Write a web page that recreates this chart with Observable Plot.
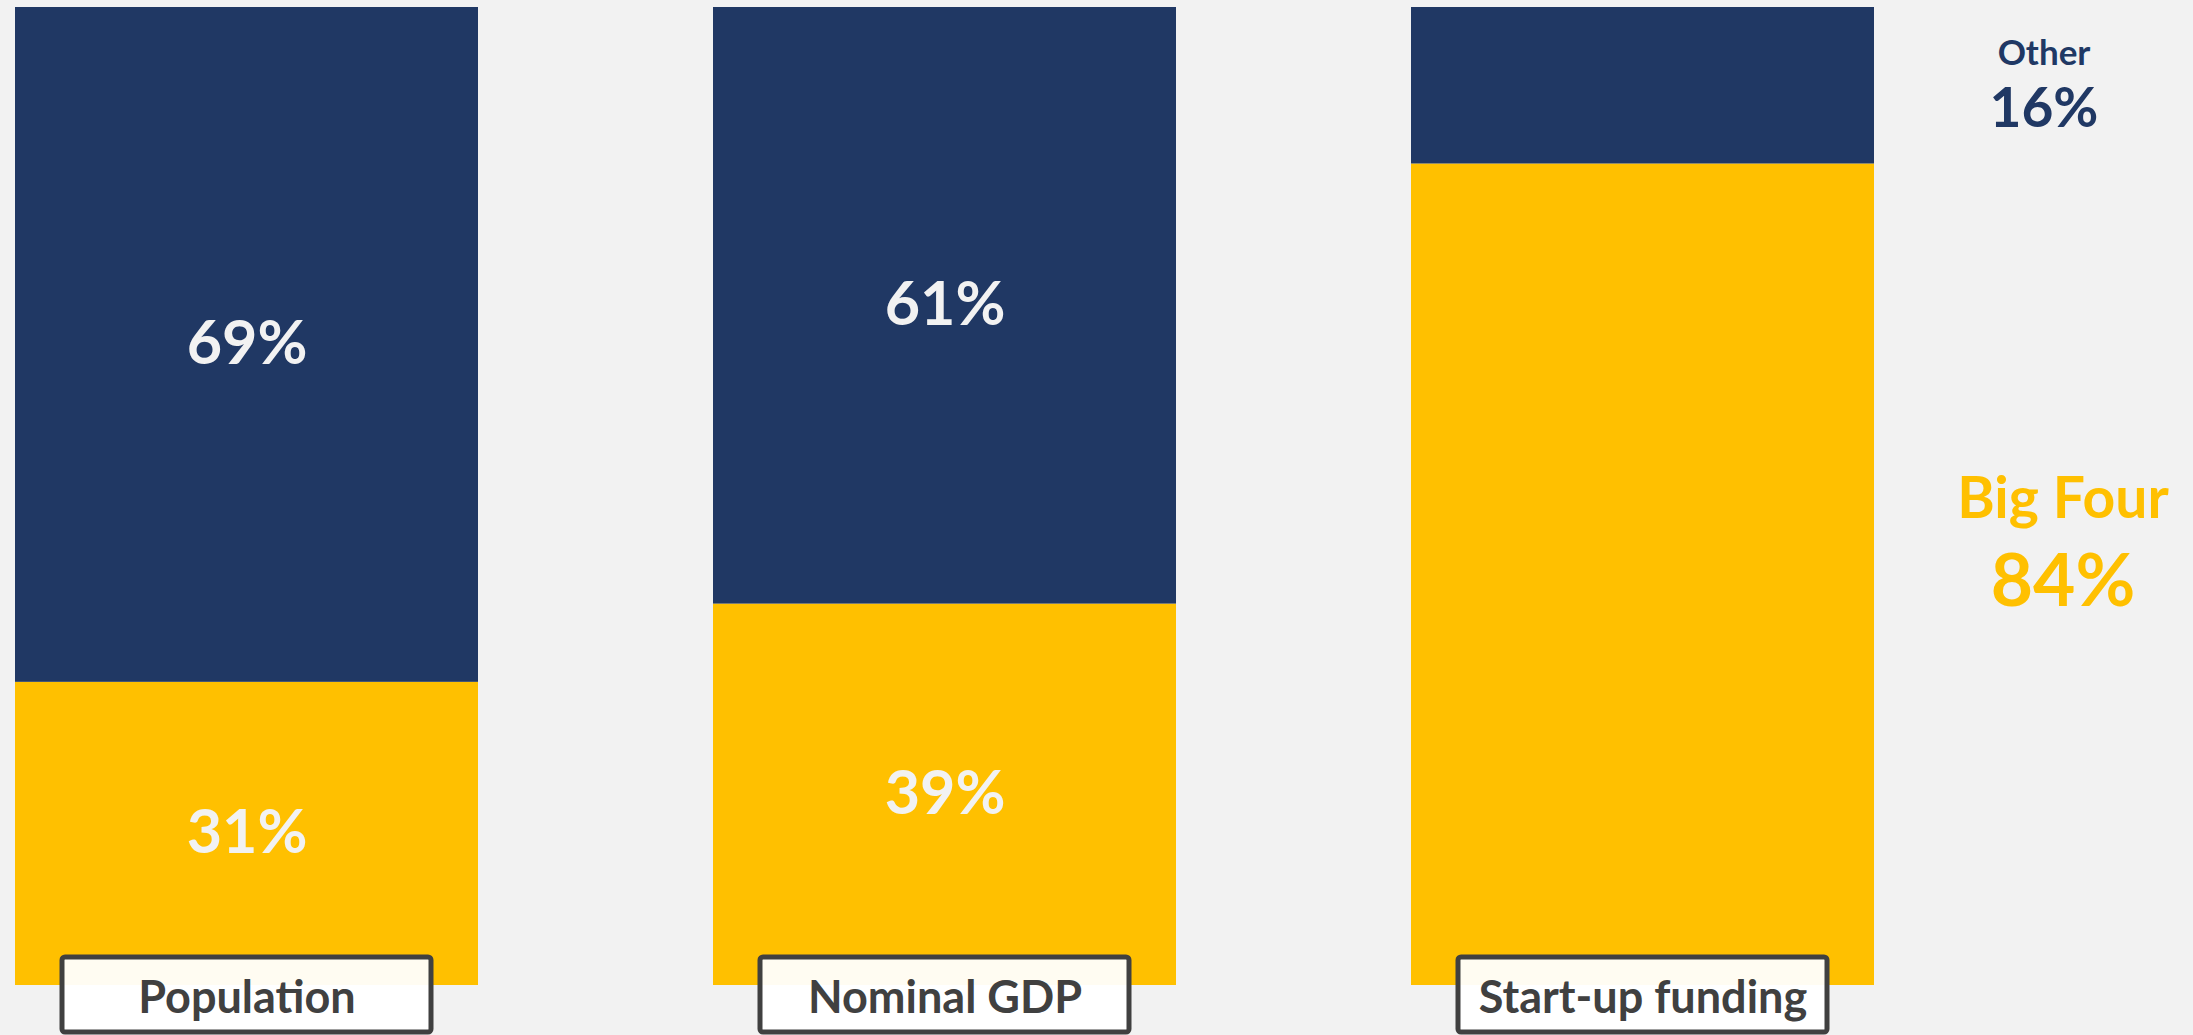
<!DOCTYPE html>
<html>
<head>
<meta charset="utf-8">
<script src="https://cdn.jsdelivr.net/npm/d3@7"></script>
<script src="https://cdn.jsdelivr.net/npm/@observablehq/plot@0.6"></script>
<style>
  html, body { margin: 0; padding: 0; background: #F2F2F2; }
  #chart svg { display: block; }
</style>
</head>
<body>
<div id="chart"></div>
<script>
const categories = ["Population", "Nominal GDP", "Start-up funding"];
const segments = ["Big Four", "Other"];
const bigFour = [31, 39, 84];
const other = [69, 61, 16];

const NAVY = "#203864", GOLD = "#FFC000", LIGHT = "#F2F2F2", DARK = "#404040";
const FONT = "Lato, 'Open Sans', sans-serif";

const data = [];
categories.forEach((c, i) => data.push({cat: c, seg: segments[0], value: bigFour[i]}));
categories.forEach((c, i) => data.push({cat: c, seg: segments[1], value: other[i]}));

const pct = d => `${d.value}%`;
const last = categories[categories.length - 1];

function sideLabel(seg, textFn, opts) {
  return Plot.text(data, Plot.stackY({
    x: "cat", y: "value", z: "seg",
    text: d => (d.cat === last && d.seg === seg) ? textFn(d) : null,
    fontFamily: FONT, fontWeight: 700, ...opts
  }));
}

const chart = Plot.plot({
  width: 2193,
  height: 1035,
  margin: 0,
  style: {background: LIGHT, fontFamily: FONT},
  x: {domain: categories, range: [14, 1876], paddingInner: 0.336, paddingOuter: 0, axis: null},
  y: {domain: [0, 100], range: [985, 7], axis: null},
  color: {domain: segments, range: [GOLD, NAVY]},
  marks: [
    Plot.barY(data, Plot.stackY({x: "cat", y: "value", z: "seg", fill: "seg", order: null})),
    Plot.text(data, Plot.stackY({
      x: "cat", y: "value", z: "seg",
      text: d => d.cat === last ? null : pct(d),
      fill: LIGHT, fontSize: 61, fontWeight: 700, fontFamily: FONT
    })),
    sideLabel("Other", d => d.seg, {fill: NAVY, fontSize: 35, dx: 401, dy: -32}),
    sideLabel("Other", pct, {fill: NAVY, fontSize: 55, dx: 401, dy: 24}),
    sideLabel("Big Four", d => d.seg, {fill: GOLD, fontSize: 57, dx: 420, dy: -75}),
    sideLabel("Big Four", pct, {fill: GOLD, fontSize: 73, dx: 420, dy: 8}),
    // category label boxes
    Plot.rect(categories, {
      x: d => d, fill: "white", fillOpacity: 0.95, stroke: DARK, strokeWidth: 5,
      insetLeft: 47, insetRight: 47, insetTop: 957, insetBottom: 3, rx: 3
    }),
    Plot.text(categories, {
      x: d => d, text: d => d, frameAnchor: "bottom", lineAnchor: "middle", dy: -37,
      fill: DARK, fontSize: 45, fontWeight: 700, fontFamily: FONT
    })
  ]
});
document.getElementById("chart").appendChild(chart);
</script>
</body>
</html>
